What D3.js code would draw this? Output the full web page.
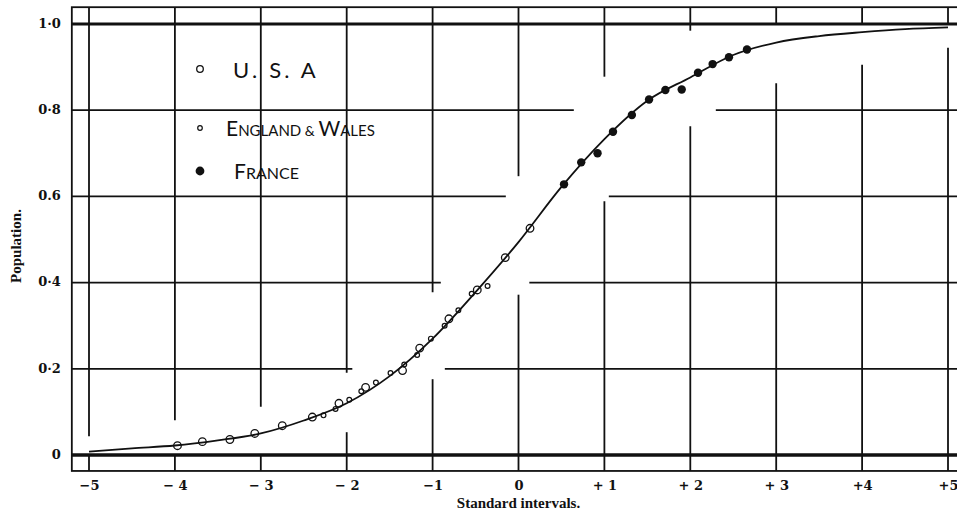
<!DOCTYPE html>
<html><head><meta charset="utf-8">
<script src="https://cdn.jsdelivr.net/npm/d3@7"></script>
<style>
body{margin:0;background:#fff}
svg{display:block}
</style>
</head><body>
<svg id="chart" width="957" height="514"></svg>
<script>
// ---------- data ----------
const xTicks = [-5, -4, -3, -2, -1, 0, 1, 2, 3, 4, 5];
const xTickLabels = ["−5", "− 4", "− 3", "− 2", "−1", "0", "+ 1", "+ 2", "+ 3", "+4", "+5"];
const yTicks = [0, 0.2, 0.4, 0.6, 0.8, 1.0];
const yTickLabels = ["0", "0·2", "0·4", "0.6", "0·8", "1·0"];

// fitted curve
const curveX = [-5, -4.5, -4, -3.5, -3, -2.5, -2, -1.5, -1, -0.5, 0, 0.5, 1, 1.5, 2, 2.5, 3, 3.5, 4, 4.5, 5];
const curveY = [0.008, 0.0155, 0.022, 0.034, 0.050, 0.080, 0.120, 0.183, 0.270, 0.378, 0.494, 0.622, 0.733, 0.822, 0.876, 0.928, 0.957, 0.972, 0.981, 0.988, 0.992];

// U.S.A (large open circles)
const usaX = [-3.97, -3.68, -3.36, -3.07, -2.75, -2.40, -2.09, -1.78, -1.35, -1.15, -0.81, -0.48, -0.154, 0.134];
const usaY = [0.0216, 0.031, 0.036, 0.050, 0.068, 0.088, 0.120, 0.157, 0.196, 0.248, 0.316, 0.383, 0.458, 0.526];

// England & Wales (small open circles)
const ewX = [-2.27, -2.13, -1.97, -1.83, -1.66, -1.49, -1.33, -1.18, -1.02, -0.86, -0.70, -0.545, -0.36];
const ewY = [0.092, 0.107, 0.128, 0.148, 0.168, 0.190, 0.210, 0.232, 0.270, 0.300, 0.336, 0.374, 0.392];

// France (filled circles)
const frX = [0.53, 0.73, 0.92, 1.10, 1.32, 1.52, 1.71, 1.90, 2.09, 2.26, 2.45, 2.66];
const frY = [0.628, 0.679, 0.700, 0.750, 0.789, 0.825, 0.847, 0.848, 0.887, 0.907, 0.923, 0.941];

// ---------- drawing ----------
const svg = d3.select("#chart");
const ink = "#111";
const x = d3.scaleLinear().domain([-5, 5]).range([89, 948]);
const y = d3.scaleLinear().domain([0, 1]).range([455, 24]);
const frame = {x0: x(-5.2), x1: x(5.2), y0: y(1.039), y1: y(-0.037)};

const gridG = svg.append("g");
const curveG = svg.append("g");
const pointG = svg.append("g");

// curve
const curvePts = curveX.map((v, i) => [v, curveY[i]]);
const line = d3.line().x(d => x(d[0])).y(d => y(d[1])).curve(d3.curveMonotoneX);
const curvePath = curveG.append("path").datum(curvePts)
  .attr("d", line).attr("fill", "none").attr("stroke", ink).attr("stroke-width", 1.8);

// sample curve to cut gaps in grid lines around it
const node = curvePath.node();
const total = node.getTotalLength();
const samples = d3.range(0, total, 1).map(l => node.getPointAtLength(l));
const clearance = d3.scaleLinear()
  .domain([-5, -4, -2, 0, 0.5, 1, 1.5, 2, 3, 4, 5])
  .range([15, 25, 26, 35, 42, 42, 47, 41, 39, 32, 20]).clamp(true);
function isGap(px, py) {
  if (py < y(1) - 0.5 || py > y(0) + 0.5) return false;
  let best = Infinity, bx = 0;
  for (const s of samples) {
    const d = (s.x - px) ** 2 + (s.y - py) ** 2;
    if (d < best) { best = d; bx = s.x; }
  }
  return Math.sqrt(best) < clearance(x.invert(bx));
}
function runs(a0, a1, test) {
  const out = []; let start = null;
  for (let a = a0; a <= a1 + 0.01; a += 0.5) {
    const g = test(a);
    if (!g && start === null) start = a;
    if (g && start !== null) { out.push([start, a - 0.5]); start = null; }
  }
  if (start !== null) out.push([start, a1]);
  return out;
}

// vertical grid lines
xTicks.forEach(t => {
  const px = x(t);
  runs(frame.y0, frame.y1, py => isGap(px, py)).forEach(([a, b]) => {
    gridG.append("line").attr("x1", px).attr("x2", px).attr("y1", a).attr("y2", b)
      .attr("stroke", ink).attr("stroke-width", 1.8);
  });
});
// horizontal grid lines
yTicks.forEach(t => {
  const py = y(t);
  const thick = (t === 0 || t === 1);
  const segs = thick ? [[frame.x0, frame.x1]] : runs(frame.x0, frame.x1, px => isGap(px, py));
  segs.forEach(([a, b]) => {
    gridG.append("line").attr("x1", a).attr("x2", b).attr("y1", py).attr("y2", py)
      .attr("stroke", ink).attr("stroke-width", t === 0 ? 3.6 : (t === 1 ? 3 : 1.8));
  });
});
// frame
gridG.append("rect").attr("x", frame.x0).attr("y", frame.y0)
  .attr("width", frame.x1 - frame.x0).attr("height", frame.y1 - frame.y0)
  .attr("fill", "none").attr("stroke", ink).attr("stroke-width", 1.8);

// points
pointG.selectAll(".usa").data(usaX.map((v, i) => [v, usaY[i]])).join("circle")
  .attr("cx", d => x(d[0])).attr("cy", d => y(d[1])).attr("r", 3.8)
  .attr("fill", "#fff").attr("fill-opacity", 0).attr("stroke", ink).attr("stroke-width", 1.3);
pointG.selectAll(".ew").data(ewX.map((v, i) => [v, ewY[i]])).join("circle")
  .attr("cx", d => x(d[0])).attr("cy", d => y(d[1])).attr("r", 2.4)
  .attr("fill", "#fff").attr("fill-opacity", 0).attr("stroke", ink).attr("stroke-width", 1.2);
pointG.selectAll(".fr").data(frX.map((v, i) => [v, frY[i]])).join("circle")
  .attr("cx", d => x(d[0])).attr("cy", d => y(d[1])).attr("r", 4.2)
  .attr("fill", ink);

// axes (labels only)
const numFont = "'DejaVu Serif', serif";
const xAxis = svg.append("g").attr("transform", `translate(0,${frame.y1})`)
  .call(d3.axisBottom(x).tickValues(xTicks).tickFormat((d, i) => xTickLabels[i]).tickSize(0).tickPadding(10));
xAxis.select(".domain").remove();
xAxis.selectAll("text").attr("font-family", numFont).attr("font-weight", "bold")
  .attr("font-size", 13).attr("fill", ink);

const yAxis = svg.append("g").attr("transform", `translate(${frame.x0},0)`)
  .call(d3.axisLeft(y).tickValues(yTicks).tickFormat((d, i) => yTickLabels[i]).tickSize(0).tickPadding(11));
yAxis.select(".domain").remove();
yAxis.selectAll("text").attr("font-family", numFont).attr("font-weight", "bold")
  .attr("font-size", 13).attr("fill", ink).attr("dy", "0.25em");

// axis titles
const titleFont = "'Liberation Serif', 'Times New Roman', serif";
svg.append("text").attr("x", x(0)).attr("y", 508).attr("text-anchor", "middle")
  .attr("font-family", titleFont).attr("font-weight", "bold").attr("font-size", 15)
  .attr("fill", ink).text("Standard intervals.");
svg.append("text").attr("transform", `translate(21,246) rotate(-90)`).attr("text-anchor", "middle")
  .attr("font-family", titleFont).attr("font-weight", "bold").attr("font-size", 15)
  .attr("fill", ink).text("Population.");

// legend
const legFont = "Lato, 'Open Sans', sans-serif";
const leg = svg.append("g");
leg.append("circle").attr("cx", 200).attr("cy", 69).attr("r", 3.3)
  .attr("fill", "none").attr("stroke", ink).attr("stroke-width", 1.3);
leg.append("text").attr("x", 233).attr("y", 77.5).attr("font-family", legFont)
  .attr("font-size", 22).attr("letter-spacing", 3.2).attr("fill", ink).text("U. S. A");

leg.append("circle").attr("cx", 200).attr("cy", 128).attr("r", 2.3)
  .attr("fill", "none").attr("stroke", ink).attr("stroke-width", 1.2);
const ew = leg.append("text").attr("x", 226).attr("y", 136).attr("font-family", legFont)
  .attr("fill", ink);
[["E", 21], ["NGLAND", 15], [" & ", 14], ["W", 21], ["ALES", 15]].forEach(([s, f]) =>
  ew.append("tspan").attr("font-size", f).text(s));

leg.append("circle").attr("cx", 200).attr("cy", 171).attr("r", 4.4).attr("fill", ink);
const fr = leg.append("text").attr("x", 234).attr("y", 179).attr("font-family", legFont)
  .attr("fill", ink);
[["F", 21], ["RANCE", 16]].forEach(([s, f]) => fr.append("tspan").attr("font-size", f).text(s));
</script>
</body></html>
